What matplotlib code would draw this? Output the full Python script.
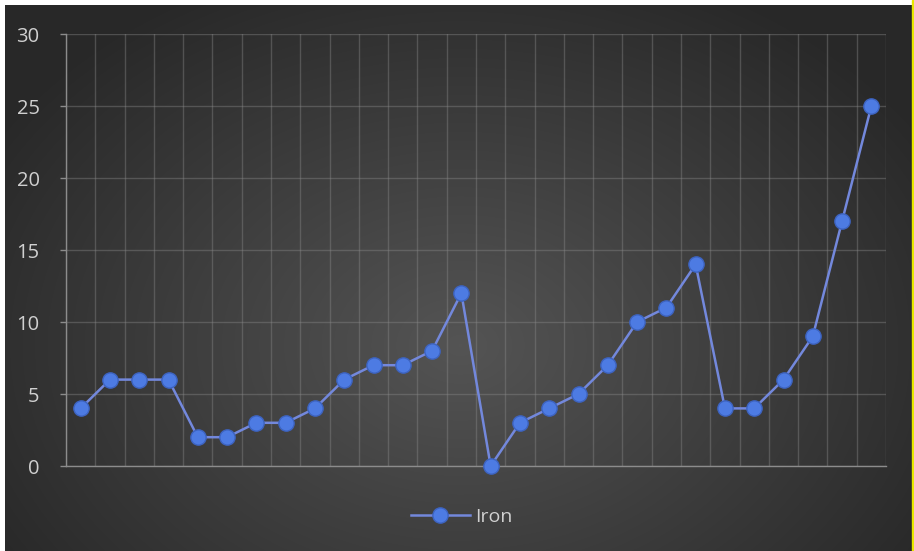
import numpy as np
import matplotlib
matplotlib.use("Agg")
import matplotlib.pyplot as plt

plt.rcParams["font.family"] = ["Open Sans", "DejaVu Sans"]

# dati
iron = [4, 6, 6, 6, 2, 2, 3, 3, 4, 6, 7, 7, 8, 12, 0, 3, 4, 5, 7, 10, 11, 14, 4, 4, 6, 9, 17, 25]
y_ticks = [0, 5, 10, 15, 20, 25, 30]
series_name = "Iron"

W, H = 914, 551
fig = plt.figure(figsize=(W / 100, H / 100), dpi=100, facecolor="white")

# sfondo con gradiente radiale
bg = fig.add_axes([5 / W, 0, (W - 7) / W, (H - 5) / H])
bg.set_axis_off()
yy, xx = np.mgrid[0:546, 0:907]
r = np.sqrt(((xx - 455) / 540.0) ** 2 + ((yy - 340) / 400.0) ** 2)
r = np.clip(r, 0, 1)
shade = 0.33 - 0.17 * r
img = np.dstack([shade, shade, shade])
bg.imshow(img, aspect="auto", extent=[0, 1, 0, 1], origin="upper")
bg.set_xlim(0, 1)
bg.set_ylim(0, 1)

# bordo giallo a destra
fig.add_artist(plt.Rectangle((1 - 2 / W, 0), 2 / W, 1, transform=fig.transFigure,
                             color="#e8e800", zorder=5))

ax = fig.add_axes([66 / W, (H - 466) / H, (886 - 66) / W, (466 - 34) / H])
ax.set_facecolor("none")

x = np.arange(len(iron))
ax.plot(x, iron, color="#7388dc", lw=1.8, marker="o", markersize=11,
        markerfacecolor="#4d7be3", markeredgecolor="#3d63c0", markeredgewidth=1,
        label=series_name, zorder=3, clip_on=False)

ax.set_xlim(-0.5, len(iron) - 0.5)
ax.set_ylim(0, 30)
ax.set_yticks(y_ticks)
ax.set_xticks([])
ax.set_xticks(np.arange(-0.5, len(iron), 1.0), minor=True)
ax.grid(True, which="minor", axis="x", color="#8a8a8a", alpha=0.4, lw=1)
ax.grid(True, which="major", axis="y", color="#8a8a8a", alpha=0.4, lw=1)
ax.tick_params(axis="x", which="minor", length=0)
ax.tick_params(axis="y", colors="#8c8c8c", length=4, width=1, pad=15,
               labelcolor="#d0d0d0", labelsize=14.5)

for s in ["top", "right"]:
    ax.spines[s].set_visible(False)
for s in ["left", "bottom"]:
    ax.spines[s].set_color("#8c8c8c")
    ax.spines[s].set_linewidth(1)

leg = fig.legend(loc="center", bbox_to_anchor=(462 / W, 1 - 517 / H), frameon=False,
                 fontsize=14, labelcolor="#d0d0d0", handlelength=3.0, handletextpad=0.3)

fig.savefig("out.png", dpi=100, facecolor="white")
